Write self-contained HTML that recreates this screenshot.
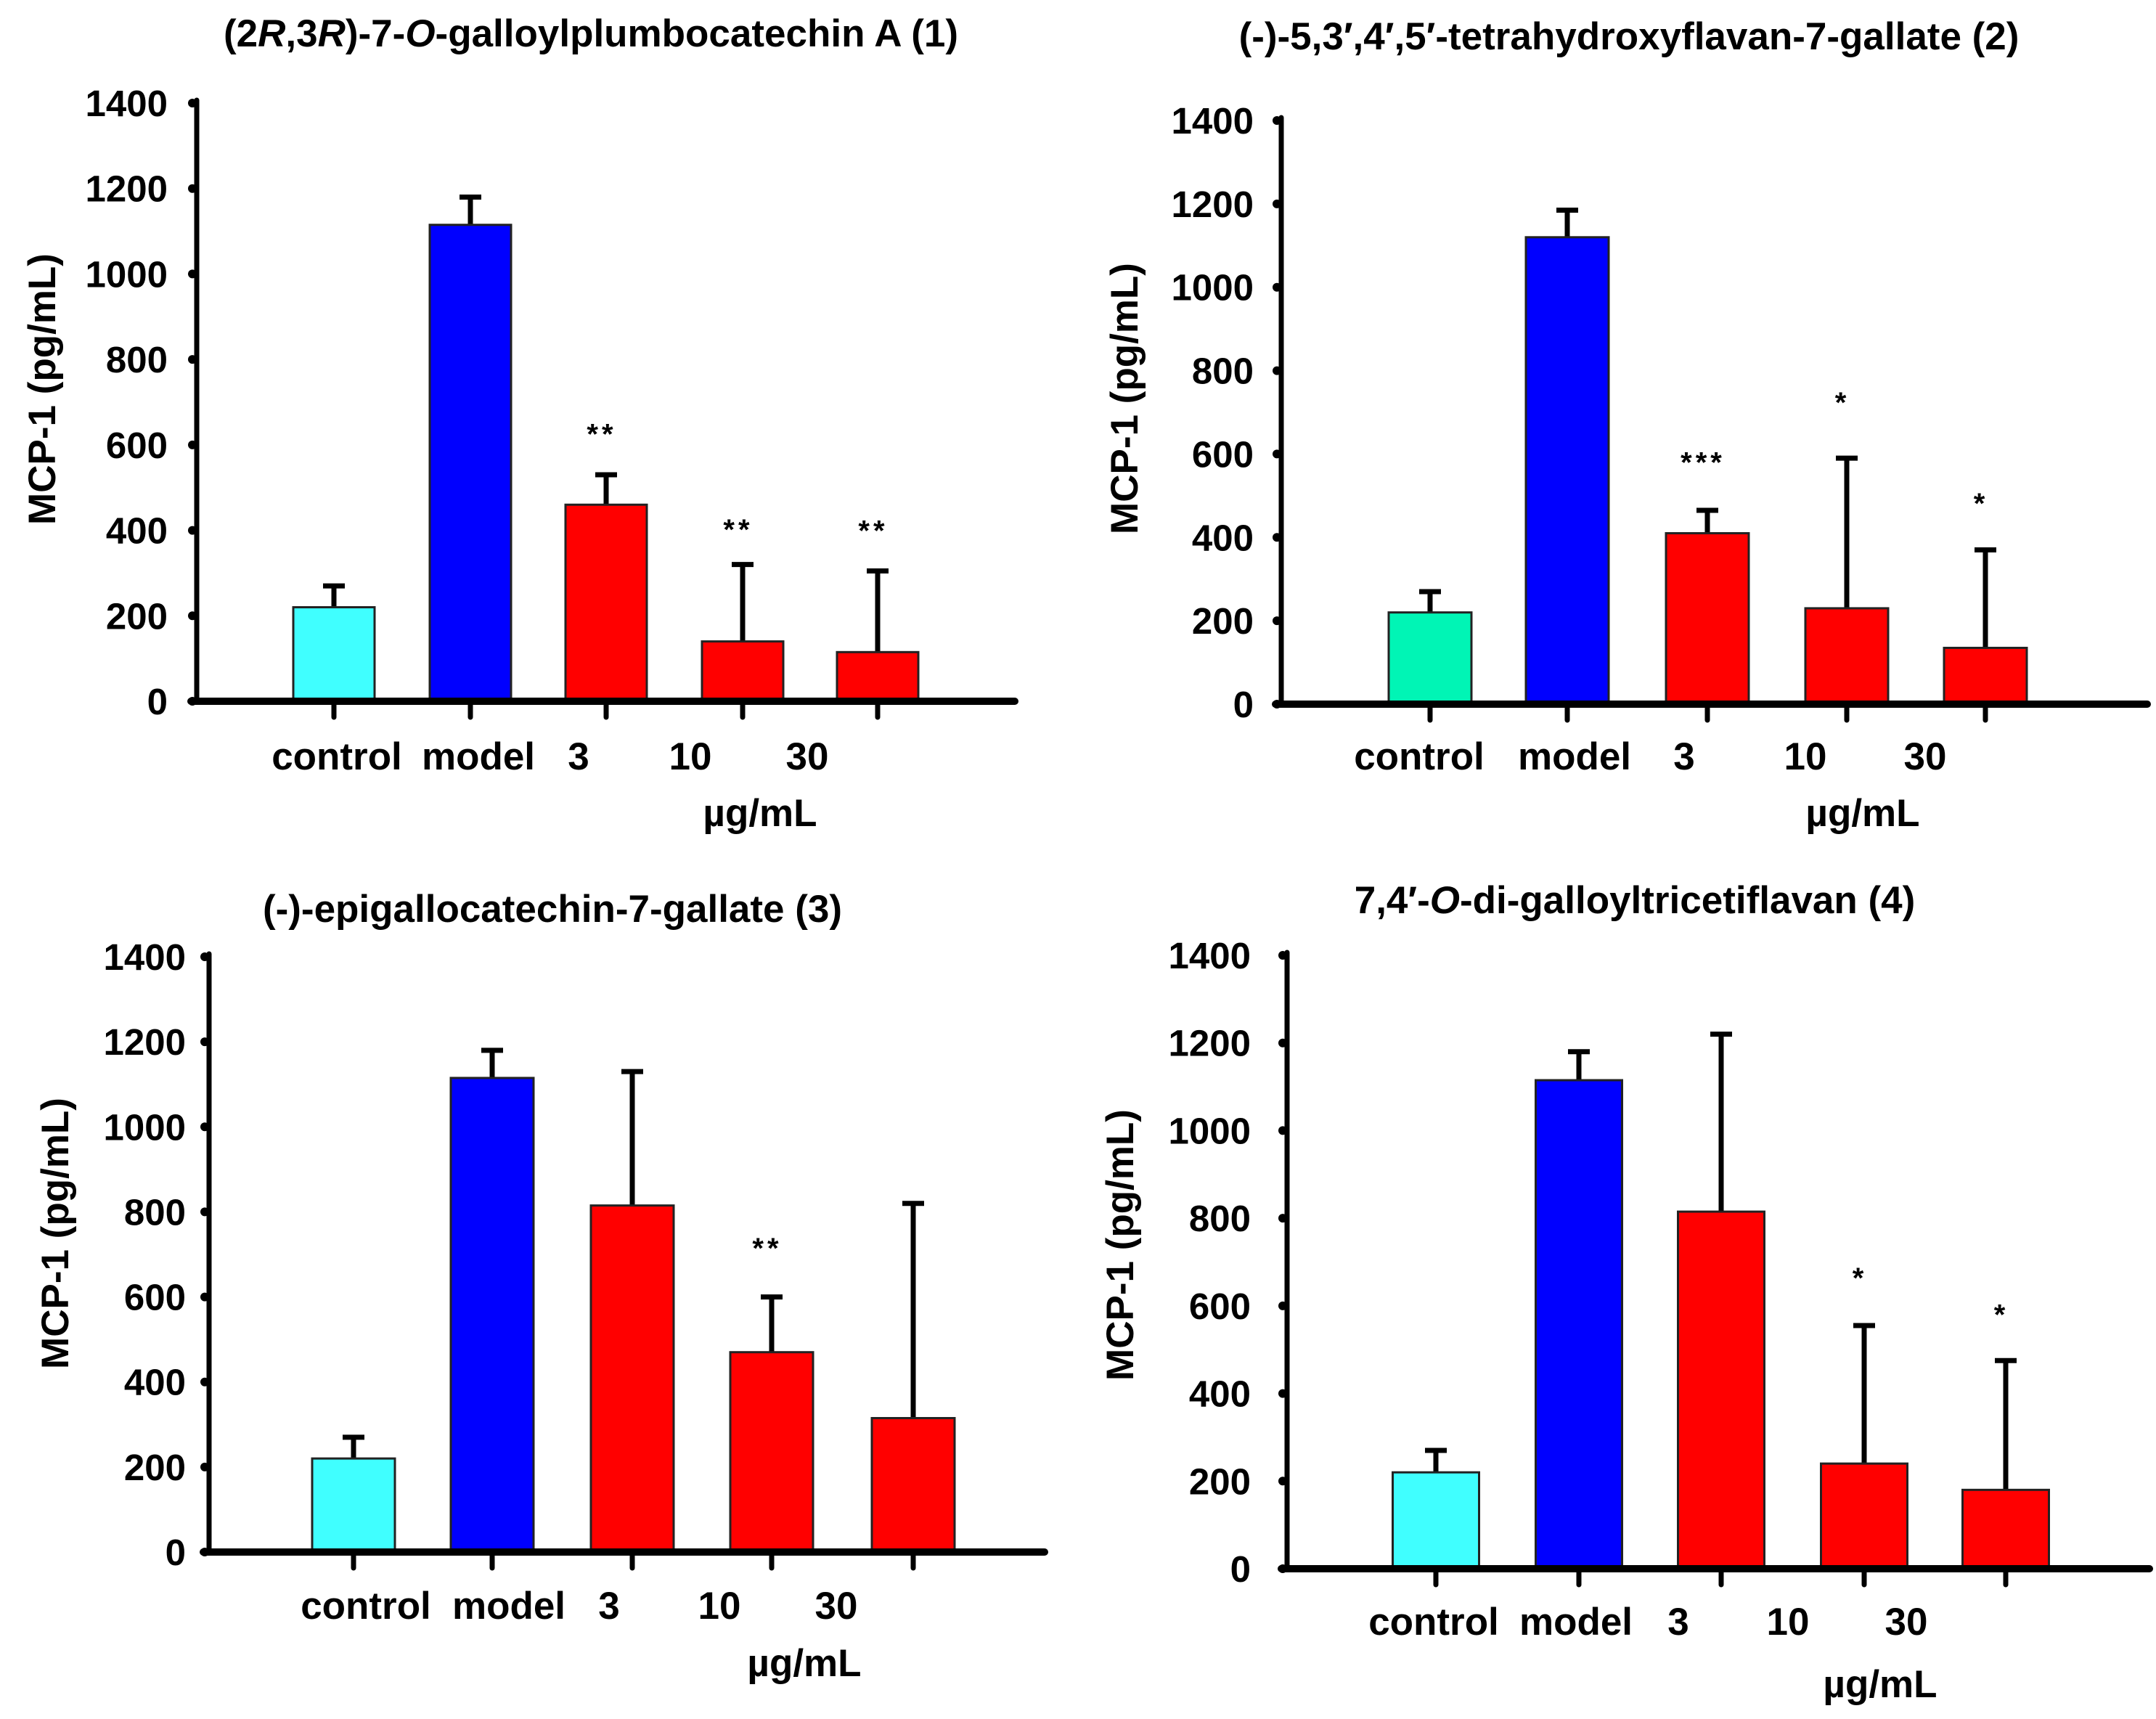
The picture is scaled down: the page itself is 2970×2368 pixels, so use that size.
<!DOCTYPE html>
<html><head><meta charset="utf-8"><style>
html,body{margin:0;padding:0;background:#fff}
svg{display:block}
text{font-family:"Liberation Sans",sans-serif;font-weight:bold;fill:#000}
</style></head><body>
<svg id="fig" width="2970" height="2368" viewBox="0 0 2970 2368" xmlns="http://www.w3.org/2000/svg"></svg>
<script>
const categories = ["control","model","3","10","30"];
const yTicks = [0,200,400,600,800,1000,1200,1400];
const p1Values = [220,1115,460,140,115];
const p1Errors = [270,1180,530,320,305];
const p1Stars = ["","","**","**","**"];
const p1StarY = [0,0,636,413,410];
const p2Values = [220,1120,410,230,135];
const p2Errors = [270,1185,465,590,370];
const p2Stars = ["","","***","*","*"];
const p2StarY = [0,0,591,735,493];
const p3Values = [220,1115,815,470,315];
const p3Errors = [270,1180,1130,600,820];
const p3Stars = ["","","","**",""];
const p3StarY = [0,0,0,726,0];
const p4Values = [220,1115,815,240,180];
const p4Errors = [270,1180,1220,555,475];
const p4Stars = ["","","","*","*"];
const p4StarY = [0,0,0,674,591];

const NS="http://www.w3.org/2000/svg";
const svg=document.getElementById('fig');
function mk(tag,attrs,parent){const e=document.createElementNS(NS,tag);for(const k in attrs)e.setAttribute(k,attrs[k]);(parent||svg).appendChild(e);return e;}

const panels=[
 {id:1,vals:p1Values,errs:p1Errors,stars:p1Stars,starY:p1StarY,ax:271,y0:966,yTop:142,right:1398,cx:[460,648,835,1023,1209],bw:112,ctrl:"#40ffff",
  title:[["(2",""],["R","italic"],[",3",""],["R","italic"],[")-7-",""],["O","italic"],["-galloylplumbocatechin A (1)",""]],tx:814,ty:64,
  labY:1060,labX:[464,659,797,951,1112],unitX:1047,unitY:1138,ytX:62,ytY:536,tickR:231},
 {id:2,vals:p2Values,errs:p2Errors,stars:p2Stars,starY:p2StarY,ax:1765,y0:970,yTop:166,right:2958,cx:[1970,2159,2352,2544,2735],bw:114,ctrl:"#00f5b5",
  title:[["(-)-5,3\u2032,4\u2032,5\u2032-tetrahydroxyflavan-7-gallate (2)",""]],tx:2244,ty:68,
  labY:1060,labX:[1955,2169,2320,2487,2652],unitX:2566,unitY:1138,ytX:1553,ytY:549,tickR:1727},
 {id:3,vals:p3Values,errs:p3Errors,stars:p3Stars,starY:p3StarY,ax:288,y0:2138,yTop:1318,right:1439,cx:[487,678,871,1063,1258],bw:114,ctrl:"#40ffff",
  title:[["(-)-epigallocatechin-7-gallate (3)",""]],tx:761,ty:1270,
  labY:2230,labX:[504,701,839,991,1152],unitX:1108,unitY:2309,ytX:80,ytY:1699,tickR:256},
 {id:4,vals:p4Values,errs:p4Errors,stars:p4Stars,starY:p4StarY,ax:1773,y0:2161,yTop:1316,right:2961,cx:[1978,2175,2371,2568,2763],bw:119,ctrl:"#40ffff",
  title:[["7,4\u2032-",""],["O","italic"],["-di-galloyltricetiflavan (4)",""]],tx:2252,ty:1258,
  labY:2252,labX:[1975,2171,2312,2463,2626],unitX:2590,unitY:2338,ytX:1547,ytY:1715,tickR:1723}
];

panels.forEach(p=>{
  const g=mk('g',{});
  
  
  const y=v=>p.y0-(v/1400)*(p.y0-p.yTop);
  const t=mk('text',{x:p.tx,y:p.ty,'text-anchor':'middle','font-size':53},g);
  
  
  p.title.forEach(s=>{const ts=mk('tspan',{},t);if(s[1])ts.setAttribute('font-style','italic');ts.textContent=s[0];});
  const yt=mk('text',{x:p.ytX,y:p.ytY,'text-anchor':'middle','font-size':53,transform:`rotate(-90 ${p.ytX} ${p.ytY})`,'dominant-baseline':'middle'},g);
  
  
  yt.textContent='MCP-1 (pg/mL)';
  yTicks.forEach(v=>{
    const yy=y(v);
    const c=mk('circle',{cx:p.ax-6,cy:yy,r:6,fill:'#000'},g);
    
    
    const tl=mk('text',{x:p.tickR,y:yy+18,'text-anchor':'end','font-size':51},g);
    
    
    tl.textContent=v;
  });
  p.vals.forEach((v,i)=>{
    const cx=p.cx[i];
    const fill=i===0?p.ctrl:(i===1?'#0000ff':'#ff0000');
    const eb=mk('line',{x1:cx,x2:cx,y1:y(v),y2:y(p.errs[i]),stroke:'#000','stroke-width':7},g);
    
    
    const cap=mk('line',{x1:cx-15,x2:cx+15,y1:y(p.errs[i]),y2:y(p.errs[i]),stroke:'#000','stroke-width':7},g);
    
    
    const r=mk('rect',{x:cx-p.bw/2,y:y(v),width:p.bw,height:p.y0-y(v),fill:fill,stroke:'#222','stroke-width':3},g);
    
    
    const tk=mk('line',{x1:cx,x2:cx,y1:p.y0,y2:p.y0+22,stroke:'#000','stroke-width':7,'stroke-linecap':'round'},g);
    
    
    if(p.stars[i]){
      const s=mk('text',{x:cx-6,y:y(p.starY[i])+20,'text-anchor':'middle','font-size':40,'font-weight':'normal','letter-spacing':5},g);
      
      
      s.textContent=p.stars[i];
    }
    const lb=mk('text',{x:p.labX[i],y:p.labY,'text-anchor':'middle','font-size':53},g);
    
    
    lb.textContent=categories[i];
  });
  const ya=mk('line',{x1:p.ax,x2:p.ax,y1:p.yTop-4,y2:p.y0,stroke:'#000','stroke-width':7,'stroke-linecap':'round'},g);
  
  
  const xa=mk('line',{x1:p.ax-8,x2:p.right,y1:p.y0,y2:p.y0,stroke:'#000','stroke-width':10,'stroke-linecap':'round'},g);
  
  
  const u=mk('text',{x:p.unitX,y:p.unitY,'text-anchor':'middle','font-size':53},g);
  
  
  u.textContent='\u00b5g/mL';
});
</script>
</body></html>
